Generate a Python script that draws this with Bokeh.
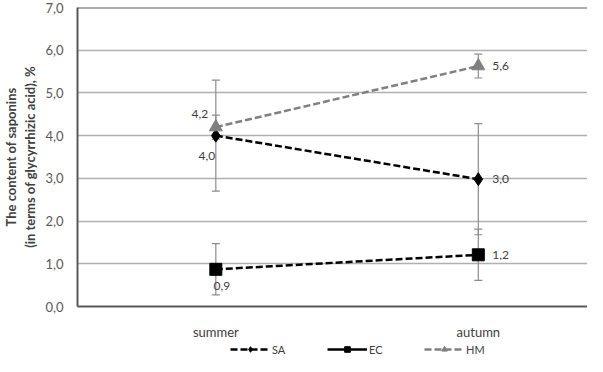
from bokeh.plotting import figure
from bokeh.layouts import column
from bokeh.models import (ColumnDataSource, FixedTicker, Whisker, TeeHead, Span,
                          Legend, LegendItem, Range1d, CustomJSTickFormatter)
from bokeh.core.properties import value
from bokeh.embed import file_html
from bokeh.resources import INLINE

# ---- data ----
seasons = ["summer", "autumn"]
series_names = ["SA", "EC", "HM"]
sa = [4.0, 2.98]
ec = [0.87, 1.21]
hm = [4.2, 5.63]
sa_err = [1.3, 1.3]
ec_err = [0.6, 0.6]
hm_err = [0.28, 0.28]
y_ticks = [0, 1, 2, 3, 4, 5, 6, 7]

FONT = "Lato"
xs = list(range(len(seasons)))

p = figure(width=587, height=342, output_backend="svg", toolbar_location=None,
           x_range=Range1d(-0.527, 1.416), y_range=Range1d(0, 7),
           min_border_left=76, min_border_right=0, min_border_top=7, min_border_bottom=28)
p.outline_line_color = None
p.background_fill_color = "white"
p.border_fill_color = "white"

# axes
p.xaxis.ticker = FixedTicker(ticks=xs)
p.xaxis.major_label_overrides = {i: s for i, s in enumerate(seasons)}
p.xaxis.major_tick_line_color = None
p.xaxis.minor_tick_line_color = None
p.xaxis.axis_line_color = "#595959"
p.xaxis.axis_line_width = 2
p.xaxis.major_label_text_font = FONT
p.xaxis.major_label_text_font_size = "13px"
p.xaxis.major_label_text_color = "#404040"
p.xaxis.major_label_standoff = 11
p.xaxis.axis_label_standoff = 0
p.xaxis.axis_label_text_font_size = "0px"

p.yaxis.ticker = FixedTicker(ticks=y_ticks)
p.yaxis.formatter = CustomJSTickFormatter(code="return tick.toFixed(1).replace('.', ',');")
p.yaxis.major_tick_line_color = None
p.yaxis.minor_tick_line_color = None
p.yaxis.axis_line_color = "#595959"
p.yaxis.axis_line_width = 2
p.yaxis.major_label_text_font = FONT
p.yaxis.major_label_text_font_size = "13px"
p.yaxis.major_label_text_color = "#595959"
p.yaxis.major_label_standoff = 8
p.yaxis.axis_label = "The content of saponins\n(in terms of glycyrrhizic acid), %"
p.yaxis.axis_label_text_font = FONT
p.yaxis.axis_label_text_font_size = "13px"
p.yaxis.axis_label_text_font_style = "bold"
p.yaxis.axis_label_text_color = "#404040"
p.yaxis.axis_label_standoff = 4

p.add_layout(Span(location=7, dimension="width", line_color="#595959", line_width=2))

p.xgrid.grid_line_color = None
p.ygrid.ticker = FixedTicker(ticks=y_ticks[1:-1])
p.ygrid.grid_line_color = "#b0b0b0"
p.ygrid.grid_line_width = 1.5

# error bars
def add_whisker(vals, errs):
    src = ColumnDataSource(dict(x=xs, lo=[v - e for v, e in zip(vals, errs)],
                                hi=[v + e for v, e in zip(vals, errs)]))
    w = Whisker(base="x", lower="lo", upper="hi", source=src, dimension="height",
                line_color="#8c8c8c", line_width=1.2,
                upper_head=TeeHead(size=8, line_color="#8c8c8c", line_width=1.2),
                lower_head=TeeHead(size=8, line_color="#8c8c8c", line_width=1.2))
    p.add_layout(w)

add_whisker(sa, sa_err)
add_whisker(ec, ec_err)
add_whisker(hm, hm_err)

DASH = "7 3"
styles = [dict(color="black", marker="diamond", size=13, dash=DASH),
          dict(color="black", marker="square", size=12, dash=DASH),
          dict(color="#808080", marker="triangle", size=13, dash=DASH)]

for vals, st in zip([sa, ec, hm], styles):
    p.line(xs, vals, line_color=st["color"], line_width=2.5, line_dash=st["dash"])
    p.scatter(xs, vals, marker=st["marker"], size=st["size"], color=st["color"])

# data labels
lab_x = [0, 0, 0, 1, 1, 1]
lab_y = [sa[0], ec[0], hm[0], sa[1], ec[1], hm[1]]
lab_t = [f"{v:.1f}".replace(".", ",") for v in lab_y]
dx = [-9, 6, -16, 14, 14, 14]
dy = [20, 17, -13, 0, 0, 0]
al = ["center", "center", "center", "left", "left", "left"]
lsrc = ColumnDataSource(dict(x=lab_x, y=lab_y, t=lab_t, dx=dx, dy=dy, al=al))
p.text(x="x", y="y", text="t", x_offset="dx", y_offset="dy", text_align="al",
       text_baseline="middle", source=lsrc, text_font=value(FONT), text_font_size="12px",
       text_color="#404040")

# ---- legend strip ----
lf = figure(width=587, height=14, output_backend="svg", toolbar_location=None,
            x_range=Range1d(0, 1), y_range=Range1d(0, 1),
            min_border=0, x_axis_location=None, y_axis_location=None)
lf.outline_line_color = None
lf.grid.grid_line_color = None
leg_dash = [DASH, None, DASH]
items = []
for name, st, d in zip(series_names, styles, leg_dash):
    kw = dict(line_color=st["color"], line_width=2.5)
    if d:
        kw["line_dash"] = d
    r1 = lf.line([float("nan")], [float("nan")], **kw)
    r2 = lf.scatter([float("nan")], [float("nan")], marker=st["marker"],
                    size=st["size"] - 2, color=st["color"])
    items.append(LegendItem(label=name, renderers=[r1, r2]))
legend = Legend(items=items, orientation="horizontal", location=(153, 0),
                label_text_font=FONT, label_text_font_size="11px", label_text_color="#404040",
                glyph_width=40, glyph_height=14, label_height=14, label_standoff=2, spacing=35,
                padding=0, margin=0, border_line_color=None, background_fill_alpha=0)
lf.add_layout(legend)

open("out.html", "w").write(file_html(column(p, lf), INLINE))
